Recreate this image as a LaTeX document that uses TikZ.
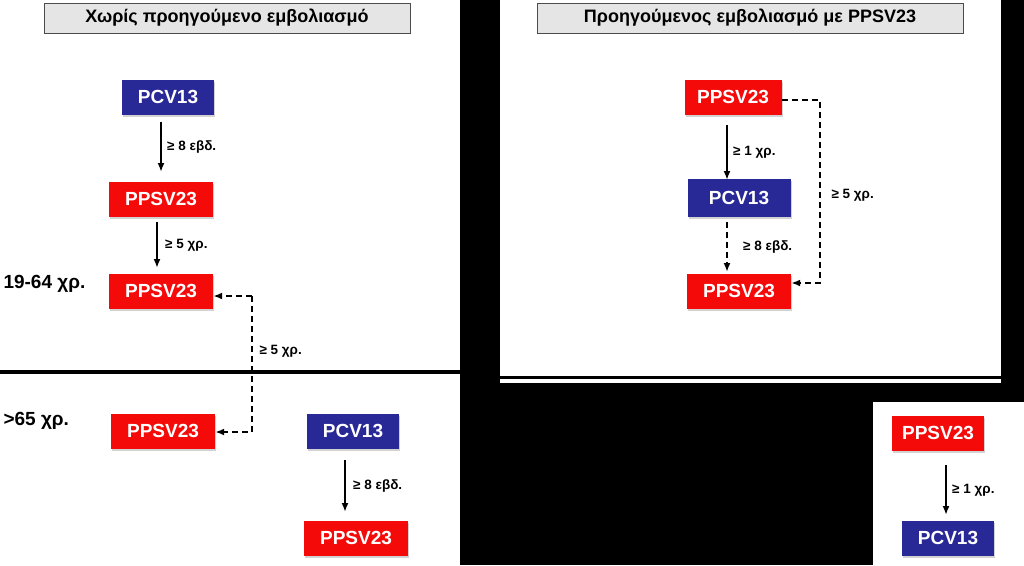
\documentclass[tikz,border=0pt]{standalone}
\usepackage{fontspec}
\setmainfont{Liberation Sans}
\usetikzlibrary{shadows,arrows.meta}
\definecolor{vred}{RGB}{245,10,10}
\definecolor{vblue}{RGB}{40,40,150}
\tikzset{
    vbox/.style={minimum height=35pt,text=white,font=\bfseries\fontsize{19}{21}\selectfont,drop shadow={opacity=0.35,shadow xshift=1pt,shadow yshift=-2pt}},
    ppsv/.style={vbox,fill=vred,minimum width=104pt},
    pcv/.style={vbox,fill=vblue,minimum width=92pt},
    titlebox/.style={draw=black!70,fill=black!10,line width=1pt,minimum height=30pt,font=\bfseries\fontsize{18}{20}\selectfont},
    gap/.style={anchor=west,font=\bfseries\fontsize{13.5}{15}\selectfont},
    age/.style={anchor=west,font=\bfseries\fontsize{19}{21}\selectfont},
    solidarr/.style={-{Latex[length=9pt,width=7pt]},line width=1.8pt},
    dasharr/.style={-{Latex[length=9pt,width=7pt]},line width=1.8pt,dash pattern=on 6pt off 4pt}
}
\begin{document}
\begin{tikzpicture}[x=1pt,y=-1pt]
    \fill[black] (0,0) rectangle (1024,565);
    % panels
    \fill[white] (0,0) rectangle (460,565);
    \fill[white] (500,0) rectangle (1001,376);
    \fill[white] (500,379) rectangle (1001,383);
    \fill[white] (873,402) rectangle (1024,565);
    \fill[black] (0,370) rectangle (460,374);

    % left: no previous vaccination
    \node[titlebox,minimum width=366pt] (tl) at (227,18) {Χωρίς προηγούμενο εμβολιασμό};
    \node[pcv] (a1) at (168,97) {PCV13};
    \node[ppsv] (a2) at (161,199) {PPSV23};
    \node[ppsv] (a3) at (161,291) {PPSV23};
    \node[age] (y1) at (0,284) {19-64 χρ.};
    \node[age] (y2) at (0,421) {>65 χρ.};
    \node[ppsv] (b1) at (163,431) {PPSV23};
    \node[pcv] (b2) at (353,431) {PCV13};
    \node[ppsv] (b3) at (356,538) {PPSV23};
    \coordinate (d1) at (252,296);
    \coordinate (d2) at (252,432);

    \draw[solidarr] (161,122) -- (161,172) node[gap,midway,xshift=2pt] {≥ 8 εβδ.};
    \draw[solidarr] (157,222) -- (157,268) node[gap,midway,xshift=4pt] {≥ 5 χρ.};
    \draw[dasharr] (d1) -- (a3.east |- d1);
    \draw[dasharr] (d1) -- (d2) -- (b1.east |- d2);
    \node[gap] at (256,351) {≥ 5 χρ.};
    \draw[solidarr] (345,460) -- (345,512) node[gap,midway,xshift=4pt] {≥ 8 εβδ.};

    % right: previous PPSV23
    \node[titlebox,minimum width=426pt] (tr) at (750,18) {Προηγούμενος εμβολιασμό με PPSV23};
    \node[ppsv,minimum width=97pt] (c1) at (733,97) {PPSV23};
    \node[pcv,minimum width=103pt,minimum height=38pt] (c2) at (739,198) {PCV13};
    \node[ppsv] (c3) at (739,291) {PPSV23};
    \coordinate (e1) at (820,100);
    \coordinate (e2) at (820,283);

    \draw[solidarr] (727,125) -- (727,180) node[gap,midway,xshift=2pt] {≥ 1 χρ.};
    \draw[dasharr] (727,222) -- (727,272) node[gap,midway,xshift=12pt] {≥ 8 εβδ.};
    \draw[dasharr] (c1.east |- e1) -- (e1) -- (e2) -- (c3.east |- e2);
    \node[gap] at (828,195) {≥ 5 χρ.};

    % small panel
    \node[ppsv,minimum width=92pt] (s1) at (938,433) {PPSV23};
    \node[pcv,minimum width=92pt] (s2) at (948,538) {PCV13};
    \draw[solidarr] (946,465) -- (946,515) node[gap,midway,xshift=2pt] {≥ 1 χρ.};
\end{tikzpicture}
\end{document}
